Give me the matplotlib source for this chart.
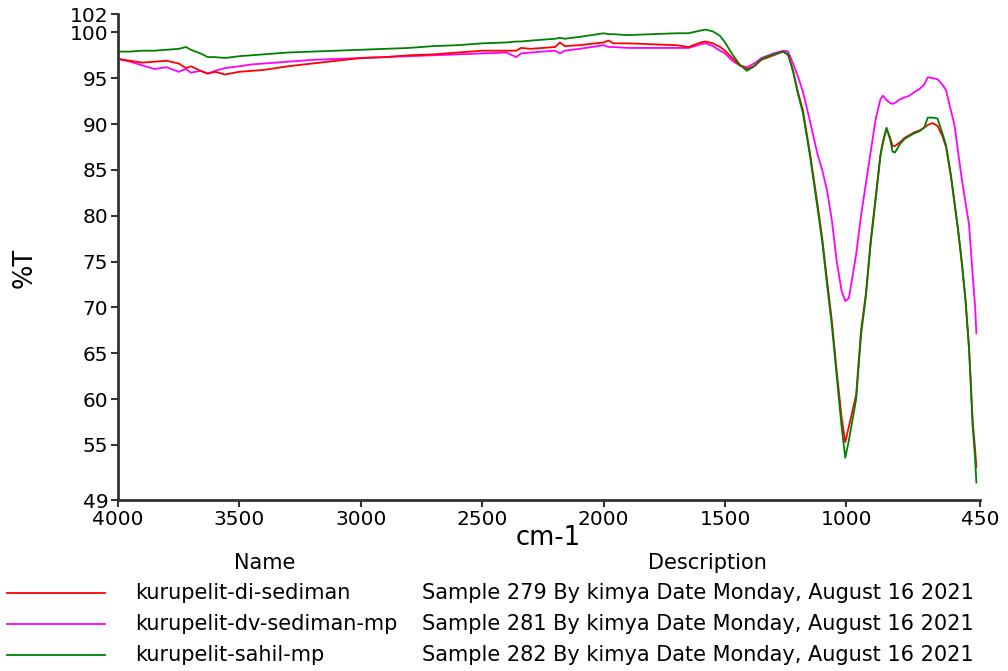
import matplotlib
matplotlib.use('Agg')
import matplotlib.pyplot as plt

plt.rcParams['font.family'] = ['DejaVu Sans']

# wavenumbers (cm-1) shared by all three spectra
wavenumber = [4000, 3950, 3900, 3850, 3800, 3750, 3720, 3700, 3660, 3630, 3600, 3560,
              3500, 3450, 3400, 3300, 3200, 3100, 3000, 2900, 2800, 2700, 2600, 2500,
              2400, 2360, 2340, 2300, 2200, 2180, 2160, 2100, 2000, 1980, 1960, 1900,
              1800, 1700, 1650, 1600, 1580, 1550, 1520, 1500, 1470, 1440, 1410, 1380,
              1350, 1300, 1260, 1240, 1220, 1200, 1180, 1150, 1120, 1100, 1080, 1060,
              1040, 1020, 1005, 990, 960, 940, 920, 900, 880, 860, 850, 835, 820, 810,
              800, 780, 760, 740, 720, 700, 680, 665, 645, 625, 605, 590, 570, 555,
              540, 525, 510, 495, 480, 470, 465]

di_sediman = [97.1, 96.9, 96.7, 96.8, 96.9, 96.6, 96.1, 96.3, 95.8, 95.5, 95.7, 95.4,
              95.7, 95.8, 95.9, 96.3, 96.6, 96.9, 97.2, 97.3, 97.5, 97.6, 97.8, 98.0,
              98.0, 98.0, 98.3, 98.2, 98.4, 98.9, 98.5, 98.6, 98.9, 99.1, 98.8, 98.8,
              98.7, 98.6, 98.4, 98.9, 99.0, 98.8, 98.4, 98.0, 97.2, 96.4, 96.0, 96.3,
              97.0, 97.5, 97.9, 97.5, 95.8, 93.5, 91.6, 86.8, 81.4, 77.6, 73.0, 68.5,
              63.0, 58.0, 55.3, 57.0, 60.5, 67.5, 71.5, 77.3, 82.0, 86.7, 88.0, 89.5, 88.5, 87.6,
              87.6, 88.0, 88.5, 88.8, 89.1, 89.3, 89.6, 89.9, 90.1, 89.8, 88.7, 87.5, 84.3, 81.3,
              78.3, 74.8, 70.8, 65.5, 57.5, 54.5, 52.6]

dv_sediman_mp = [97.1, 96.8, 96.4, 96.0, 96.2, 95.7, 96.0, 95.6, 95.8, 95.5, 95.8, 96.1,
                 96.3, 96.5, 96.6, 96.8, 97.0, 97.1, 97.2, 97.3, 97.4, 97.5, 97.6, 97.7,
                 97.8, 97.3, 97.7, 97.8, 98.0, 97.7, 98.0, 98.2, 98.6, 98.4, 98.4, 98.3,
                 98.3, 98.3, 98.3, 98.7, 98.8, 98.5, 98.0, 97.7, 96.9, 96.4, 96.2, 96.6,
                 97.2, 97.7, 98.0, 97.9, 96.6, 95.2, 93.6, 90.3, 86.8, 85.0, 82.8, 79.5,
                 75.0, 71.8, 70.7, 71.0, 75.8, 80.0, 83.5, 87.0, 90.5, 92.7, 93.1, 92.6, 92.3, 92.2,
                 92.3, 92.7, 92.9, 93.1, 93.5, 93.8, 94.3, 95.1, 95.0, 94.9, 94.3, 93.7, 91.5, 89.9,
                 86.9, 84.0, 81.5, 79.0, 73.5, 70.0, 67.2]

sahil_mp = [97.9, 97.9, 98.0, 98.0, 98.1, 98.2, 98.4, 98.1, 97.7, 97.3, 97.3, 97.2,
            97.4, 97.5, 97.6, 97.8, 97.9, 98.0, 98.1, 98.2, 98.3, 98.5, 98.6, 98.8,
            98.9, 99.0, 99.0, 99.1, 99.3, 99.4, 99.3, 99.5, 99.9, 99.8, 99.8, 99.7,
            99.8, 99.9, 99.9, 100.2, 100.3, 100.1, 99.6, 98.9, 97.6, 96.5, 95.8, 96.3,
            97.1, 97.6, 97.9, 97.6, 95.8, 93.3, 91.3, 86.5, 81.0, 77.2, 72.5, 68.0,
            62.5, 57.0, 53.6, 55.5, 60.0, 67.0, 71.2, 77.0, 81.7, 86.5, 88.0, 89.6, 88.3, 87.0,
            86.9, 87.8, 88.4, 88.7, 89.0, 89.2, 89.6, 90.7, 90.7, 90.6, 89.0, 87.7, 84.5, 81.5,
            78.5, 75.0, 71.0, 65.5, 57.0, 53.5, 50.9]

names = ['kurupelit-di-sediman', 'kurupelit-dv-sediman-mp', 'kurupelit-sahil-mp']
descriptions = ['Sample 279 By kimya Date Monday, August 16 2021',
                'Sample 281 By kimya Date Monday, August 16 2021',
                'Sample 282 By kimya Date Monday, August 16 2021']
colors = ['#ff0000', '#ff00ff', '#008000']
series = [di_sediman, dv_sediman_mp, sahil_mp]

xticks = [4000, 3500, 3000, 2500, 2000, 1500, 1000, 450]
yticks = [49, 55, 60, 65, 70, 75, 80, 85, 90, 95, 100, 102]

W, H = 1008, 671
fig = plt.figure(figsize=(W / 100, H / 100), dpi=100)
ax = fig.add_axes([118 / W, 1 - 500 / H, (980 - 118) / W, (500 - 14) / H])

# draw magenta first so red/green sit on top like the original
for i in [1, 0, 2]:
    ax.plot(wavenumber, series[i], color=colors[i], lw=1.3)

ax.set_xlim(4000, 450)
ax.set_ylim(49, 102)
ax.set_xticks(xticks)
ax.set_yticks(yticks)
ax.tick_params(direction='out', length=5, width=1.5, labelsize=14.5, color='#333333', pad=2)
for s in ['top', 'right']:
    ax.spines[s].set_visible(False)
for s in ['left', 'bottom']:
    ax.spines[s].set_linewidth(2)
    ax.spines[s].set_color('#333333')

fig.text(548 / W, 1 - 538 / H, 'cm-1', fontsize=18.5, ha='center', va='center')
fig.text(25 / W, 1 - 268 / H, '%T', fontsize=18.5, rotation=90, ha='center', va='center')

# legend table under the plot
fs = 15
fig.text(265 / W, 1 - 563 / H, 'Name', fontsize=fs, ha='center', va='center')
fig.text(707 / W, 1 - 563 / H, 'Description', fontsize=fs, ha='center', va='center')
rows_y = [593, 624, 655]
for i in range(3):
    y = 1 - rows_y[i] / H
    fig.add_artist(plt.Line2D([7 / W, 105 / W], [y, y], color=colors[i], lw=1.3))
    fig.text(135 / W, y, names[i], fontsize=fs, ha='left', va='center')
    fig.text(422 / W, y, descriptions[i], fontsize=fs, ha='left', va='center')

fig.savefig('out.png', dpi=100)
